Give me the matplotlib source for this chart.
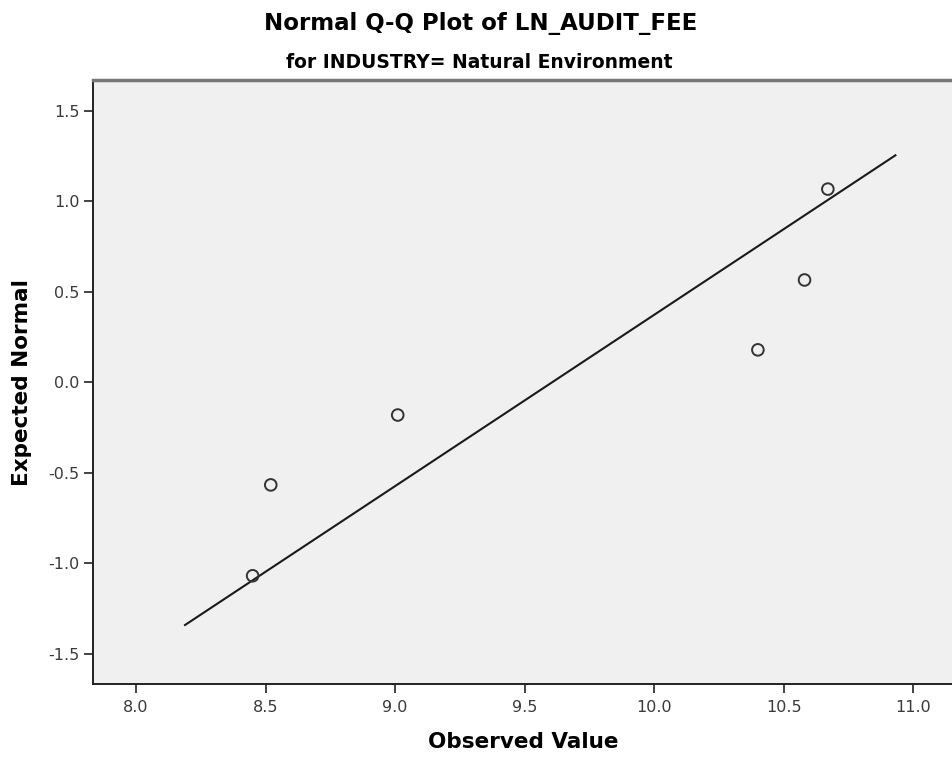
import matplotlib
matplotlib.use("Agg")
import matplotlib.pyplot as plt
import numpy as np

observed = [8.45, 8.52, 9.01, 10.40, 10.58, 10.67]
# expected normal scores (rank / (n+1))
expected = [-1.068, -0.566, -0.180, 0.180, 0.566, 1.068]

x_ticks = [8.0, 8.5, 9.0, 9.5, 10.0, 10.5, 11.0]
y_ticks = [-1.5, -1.0, -0.5, 0.0, 0.5, 1.0, 1.5]

title = "Normal Q-Q Plot of LN_AUDIT_FEE"
subtitle = "for INDUSTRY= Natural Environment"

plt.rcParams["font.family"] = ["DejaVu Sans"]

fig = plt.figure(figsize=(9.53, 7.58), dpi=100)
ax = fig.add_axes([0.0976, 0.0976, 0.9024, 0.7962])
ax.set_facecolor("#f0f0f0")

# reference line of the normal distribution with the sample mean / sd
obs = np.array(observed)
mean = obs.mean()
sd = obs.std(ddof=1)
pad = 0.119 * (obs.max() - obs.min())
lx = np.array([obs.min() - pad, obs.max() + pad])
ax.plot(lx, (lx - mean) / sd, color="#1a1a1a", lw=1.5, solid_capstyle="butt")

ax.scatter(observed, expected, s=70, facecolors="none", edgecolors="#333333",
           linewidths=1.4, zorder=3)

ax.set_xlim(7.834, 11.153)
ax.set_ylim(-1.666, 1.668)
ax.set_xticks(x_ticks)
ax.set_yticks(y_ticks)
ax.set_xticklabels(["%.1f" % v for v in x_ticks])
ax.set_yticklabels(["%.1f" % v for v in y_ticks])
ax.tick_params(direction="out", length=6.5, width=1.2, colors="#222222",
               labelsize=11.5, labelcolor="#3a3a3a")
ax.tick_params(axis="x", pad=5)
ax.tick_params(axis="y", pad=3)

ax.spines["right"].set_visible(False)
for s in ["left", "bottom"]:
    ax.spines[s].set_linewidth(1.4)
    ax.spines[s].set_color("#222222")
ax.spines["top"].set_linewidth(2.5)
ax.spines["top"].set_color("#777777")

ax.set_xlabel("Observed Value", fontsize=15.5, fontweight="bold", va="center")
ax.xaxis.set_label_coords(0.5, -0.096)
ax.set_ylabel("Expected Normal", fontsize=15.5, fontweight="bold", va="center")
ax.yaxis.set_label_coords(-0.0826, 0.5)

fig.text(0.504, 0.9604, title, ha="center", va="baseline", fontsize=16.5,
         fontweight="bold")
fig.text(0.503, 0.910, subtitle, ha="center", va="baseline", fontsize=13.5,
         fontweight="bold")

fig.savefig("out.png", dpi=100)
